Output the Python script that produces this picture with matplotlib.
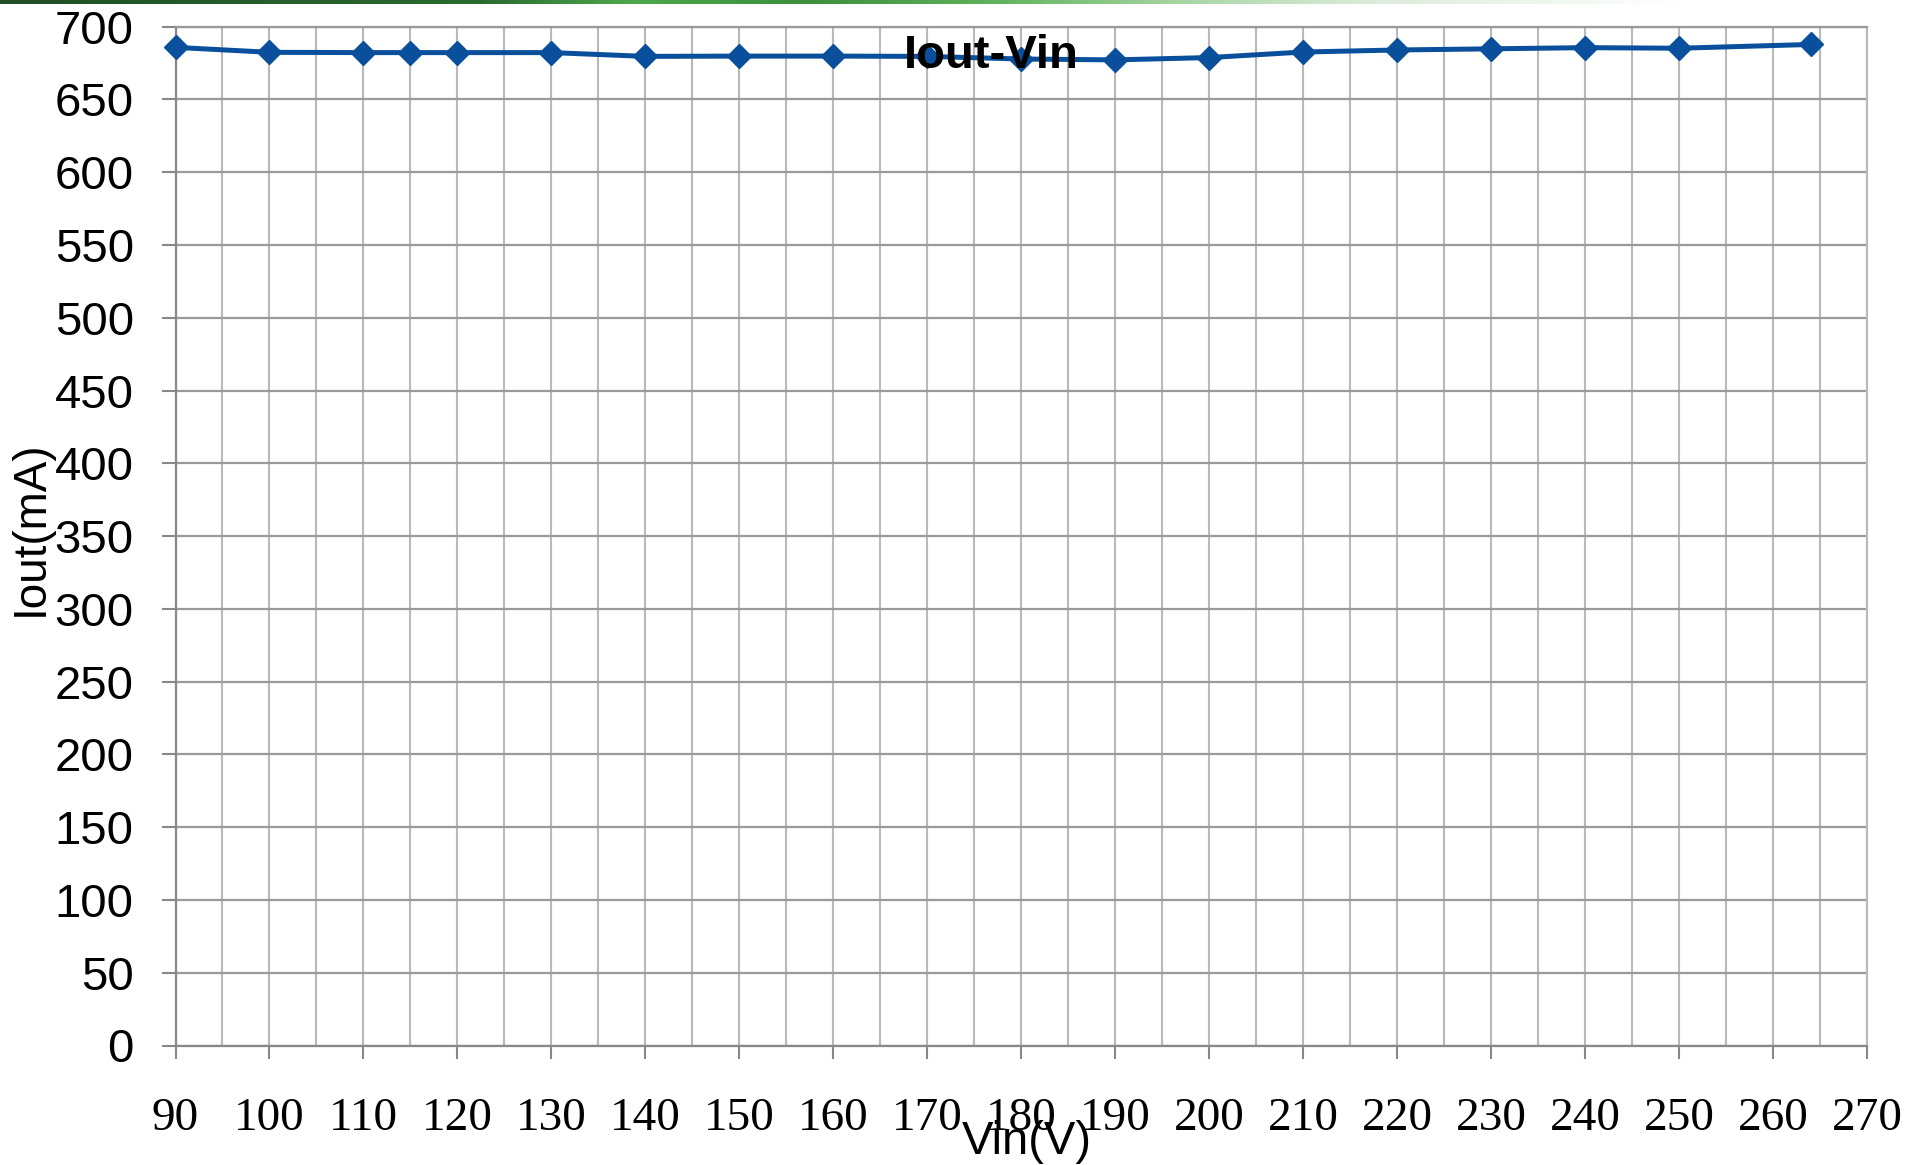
import numpy as np
import matplotlib
matplotlib.use("Agg")
import matplotlib.pyplot as plt
from matplotlib.colors import LinearSegmentedColormap
from matplotlib.ticker import MultipleLocator

# ---- data ----
vin = [90, 100, 110, 115, 120, 130, 140, 150, 160, 170, 180, 190, 200, 210, 220, 230, 240, 250, 264]
iout = [685.8, 682.4, 682.2, 682.2, 682.2, 682.2, 679.6, 679.8, 679.8, 679.6, 677.8, 677.2, 678.8,
        682.6, 684.0, 684.8, 685.6, 685.2, 687.8]
x_ticks = [90, 100, 110, 120, 130, 140, 150, 160, 170, 180, 190, 200, 210, 220, 230, 240, 250, 260, 270]
y_ticks = [0, 50, 100, 150, 200, 250, 300, 350, 400, 450, 500, 550, 600, 650, 700]
title = "Iout-Vin"
xlabel = "Vin(V)"
ylabel = "Iout(mA)"

W, H = 1911, 1165
fig = plt.figure(figsize=(W / 100, H / 100), dpi=100)
fig.patch.set_facecolor("white")

# decorative green band at the very top
band = fig.add_axes([0, 1 - 4 / H, 1, 4 / H])
cmap = LinearSegmentedColormap.from_list(
    "band",
    [(0.0, "#1f4f25"), (0.25, "#2a6a30"), (0.33, "#4da84c"), (0.42, "#3b8f3d"),
     (0.52, "#5fb35c"), (0.62, "#a9d6a5"), (0.72, "#dcecda"), (0.88, "#ffffff"), (1.0, "#ffffff")])
band.imshow(np.linspace(0, 1, 512)[None, :], aspect="auto", cmap=cmap, extent=(0, 1, 0, 1))
band.set_axis_off()

L, R = 175.5 / W, 1867 / W
B, T = (H - 1045.5) / H, (H - 26.7) / H
ax = fig.add_axes([L, B, R - L, T - B])

ax.plot(vin, iout, color="#0a4f9c", lw=3.6, marker="D", ms=12, mec="#0a4f9c", mfc="#0a4f9c",
        zorder=3, clip_on=False)

ax.set_xlim(90, 270)
ax.set_ylim(0, 700)
ax.set_xticks(x_ticks)
ax.set_yticks(y_ticks)
ax.xaxis.set_minor_locator(MultipleLocator(5))

ax.grid(which="major", axis="y", color="#9a9a9a", lw=1.6, zorder=0)
ax.grid(which="both", axis="x", color="#b9b9b9", lw=1.5, zorder=0)
ax.set_axisbelow(True)

for s in ["left", "bottom"]:
    ax.spines[s].set_color("#888888")
    ax.spines[s].set_linewidth(1.6)
ax.spines["top"].set_color("#9a9a9a")
ax.spines["top"].set_linewidth(1.6)
ax.spines["right"].set_color("#b9b9b9")
ax.spines["right"].set_linewidth(1.5)

ax.tick_params(axis="y", which="major", length=10, width=1.5, color="#888888", pad=20,
               labelsize=34, labelcolor="black")
ax.tick_params(axis="x", which="major", length=9.5, width=1.5, color="#888888", pad=28,
               labelsize=34, labelcolor="black")
ax.tick_params(axis="x", which="minor", length=0)
for lab in ax.get_yticklabels():
    lab.set_fontfamily("Liberation Sans")
for lab in ax.get_xticklabels():
    lab.set_fontfamily("Liberation Serif")

ax.set_ylabel(ylabel, fontsize=33, family="Liberation Sans", va="center")
ax.yaxis.set_label_coords(-0.0854, 0.508)
ax.set_xlabel(xlabel, fontsize=34, family="Liberation Sans", va="center")
ax.xaxis.set_label_coords(0.503, -0.0947)

t = ax.set_title(title, fontsize=34, fontweight="bold", family="Liberation Sans",
                 y=0.9716, va="center", pad=0)
t.set_x(0.4824)
t.set_zorder(5)

fig.savefig("out.png", dpi=100, facecolor="white")
